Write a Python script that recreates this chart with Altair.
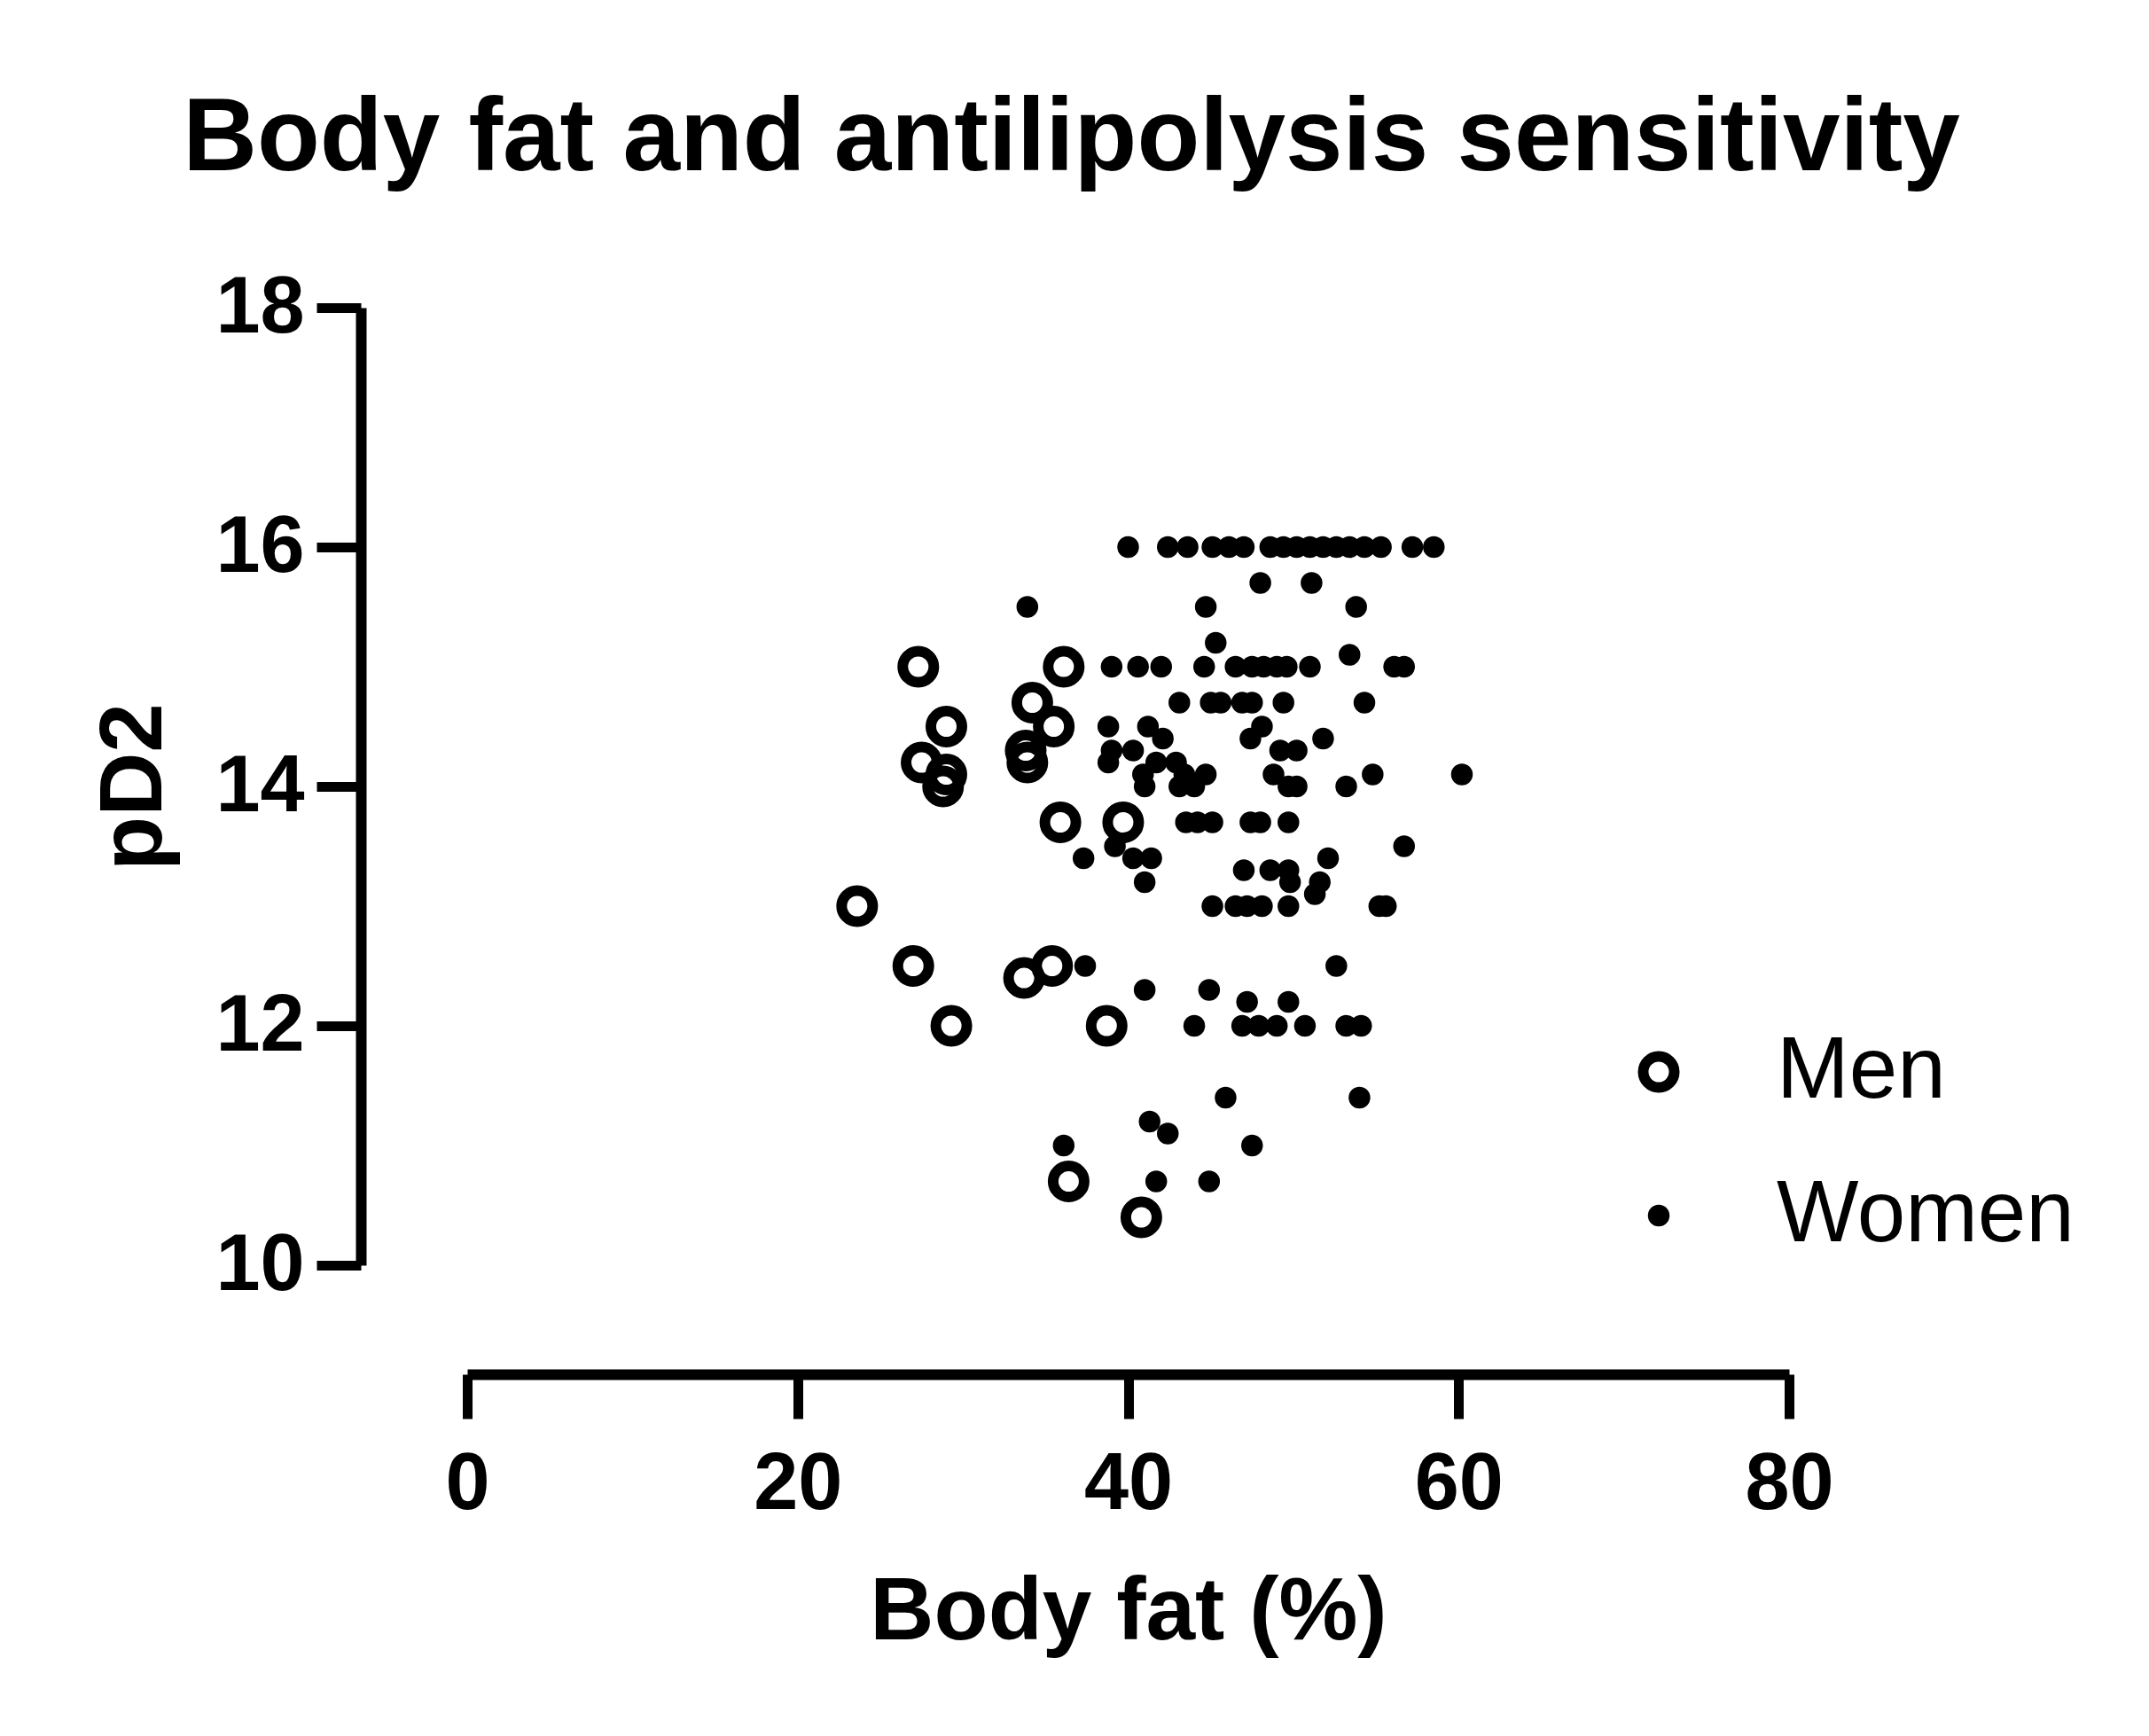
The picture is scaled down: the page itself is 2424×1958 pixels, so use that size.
import altair as alt
import pandas as pd

# Men (open circles)
men_x = [27.3, 36.1, 34.2, 35.5, 29.0, 27.5, 29.0, 28.8, 33.8, 33.9,
         35.9, 39.7, 23.6, 27.0, 29.3, 33.7, 35.4, 38.7, 36.4, 40.8]
men_y = [15.0, 15.0, 14.7, 14.5, 14.5, 14.2, 14.1, 14.0, 14.3, 14.2,
         13.7, 13.7, 13.0, 12.5, 12.0, 12.4, 12.5, 12.0, 10.7, 10.4]

# Women (filled dots), grouped by pD2 row
women_rows = {
    16.0: [40.0, 42.4, 43.6, 45.1, 46.1, 47.0, 48.6, 49.4, 50.2, 51.0, 51.8, 52.6, 53.4, 54.3, 55.3, 57.2, 58.5],
    15.7: [48.0, 51.1],
    15.5: [33.9, 44.7, 53.8],
    15.2: [45.3],
    15.1: [53.4],
    15.0: [39.0, 40.6, 42.0, 44.6, 46.5, 47.5, 48.2, 49.0, 49.6, 51.0, 56.1, 56.7],
    14.7: [43.1, 45.0, 45.6, 46.9, 47.5, 49.4, 54.3],
    14.5: [38.8, 41.2, 48.1],
    14.4: [42.1, 47.4, 51.8],
    14.3: [39.0, 40.3, 49.2, 50.2],
    14.2: [38.8, 41.7, 42.9],
    14.1: [40.9, 43.4, 44.7, 48.8, 54.8, 60.2],
    14.0: [41.0, 43.1, 44.0, 49.7, 50.2, 53.2],
    13.7: [43.5, 44.2, 45.1, 47.4, 48.0, 49.7],
    13.5: [39.2, 56.7],
    13.4: [37.3, 40.3, 41.4, 52.1],
    13.3: [47.0, 48.6, 49.7],
    13.2: [41.0, 49.8, 51.6],
    13.1: [51.3],
    13.0: [45.1, 46.5, 47.2, 48.1, 49.7, 55.2, 55.6],
    12.5: [37.4, 52.6],
    12.3: [41.0, 44.9],
    12.2: [47.2, 49.7],
    12.0: [44.0, 46.9, 47.9, 49.0, 50.7, 53.2, 54.1],
    11.4: [45.9, 54.0],
    11.2: [41.3],
    11.1: [42.4],
    11.0: [36.1, 47.5],
    10.7: [41.7, 44.9],
}

groups = ["Men", "Women"]
x_ticks = [0, 20, 40, 60, 80]
y_ticks = [10, 12, 14, 16, 18]

rows = [{"fat": x, "pd2": y, "group": "Men"} for x, y in zip(men_x, men_y)]
for y, xs in women_rows.items():
    rows += [{"fat": x, "pd2": y, "group": "Women"} for x in xs]
df = pd.DataFrame(rows)

FONT = "Liberation Sans"

chart = alt.Chart(df).mark_point(shape="circle", filled=True, stroke="black", opacity=1).encode(
    x=alt.X("fat:Q", title="Body fat (%)",
            scale=alt.Scale(domain=[0, 80], nice=False, zero=False),
            axis=alt.Axis(values=x_ticks, offset=123, tickSize=50, tickWidth=11, domainWidth=12,
                          labelFontSize=90, labelFontWeight="bold", labelPadding=30,
                          titleFontSize=100, titleFontWeight="bold", titlePadding=50,
                          labelFlush=False, labelOverlap=False)),
    y=alt.Y("pd2:Q", title="pD2",
            scale=alt.Scale(domain=[10, 18], nice=False, zero=False),
            axis=alt.Axis(values=y_ticks, offset=120, tickSize=50, tickWidth=11, domainWidth=12,
                          labelFontSize=90, labelFontWeight="bold", labelPadding=14,
                          titleFontSize=100, titleFontWeight="bold", titlePadding=40,
                          labelFlush=False, labelOverlap=False)),
    fill=alt.Fill("group:N", scale=alt.Scale(domain=groups, range=["transparent", "black"]),
                  legend=alt.Legend(title=None, orient="none", legendX=1295, legendY=813,
                                    labelFontSize=98, labelOffset=84, rowPadding=64,
                                    labelFont=FONT, labelLimit=2000, padding=0)),
    size=alt.Size("group:N", scale=alt.Scale(domain=groups, range=[1225, 600])),
    strokeWidth=alt.StrokeWidth("group:N", scale=alt.Scale(domain=groups, range=[12, 0])),
).properties(
    width=1491, height=1080,
    autosize=alt.AutoSizeParams(type="none"),
    padding={"left": 519, "top": 339, "right": 382, "bottom": 523},
    title=alt.TitleParams("Body fat and antilipolysis sensitivity", fontSize=116, fontWeight="bold",
                          font=FONT, color="black", anchor="middle", frame="group", dx=-64, offset=86),
).configure_axis(
    grid=False, domainColor="black", tickColor="black", labelColor="black", titleColor="black",
    labelFont=FONT, titleFont=FONT,
).configure_legend(
    labelColor="black",
).configure_view(stroke=None)

chart.save("out.html", embed_options={"renderer": "svg", "actions": False})
